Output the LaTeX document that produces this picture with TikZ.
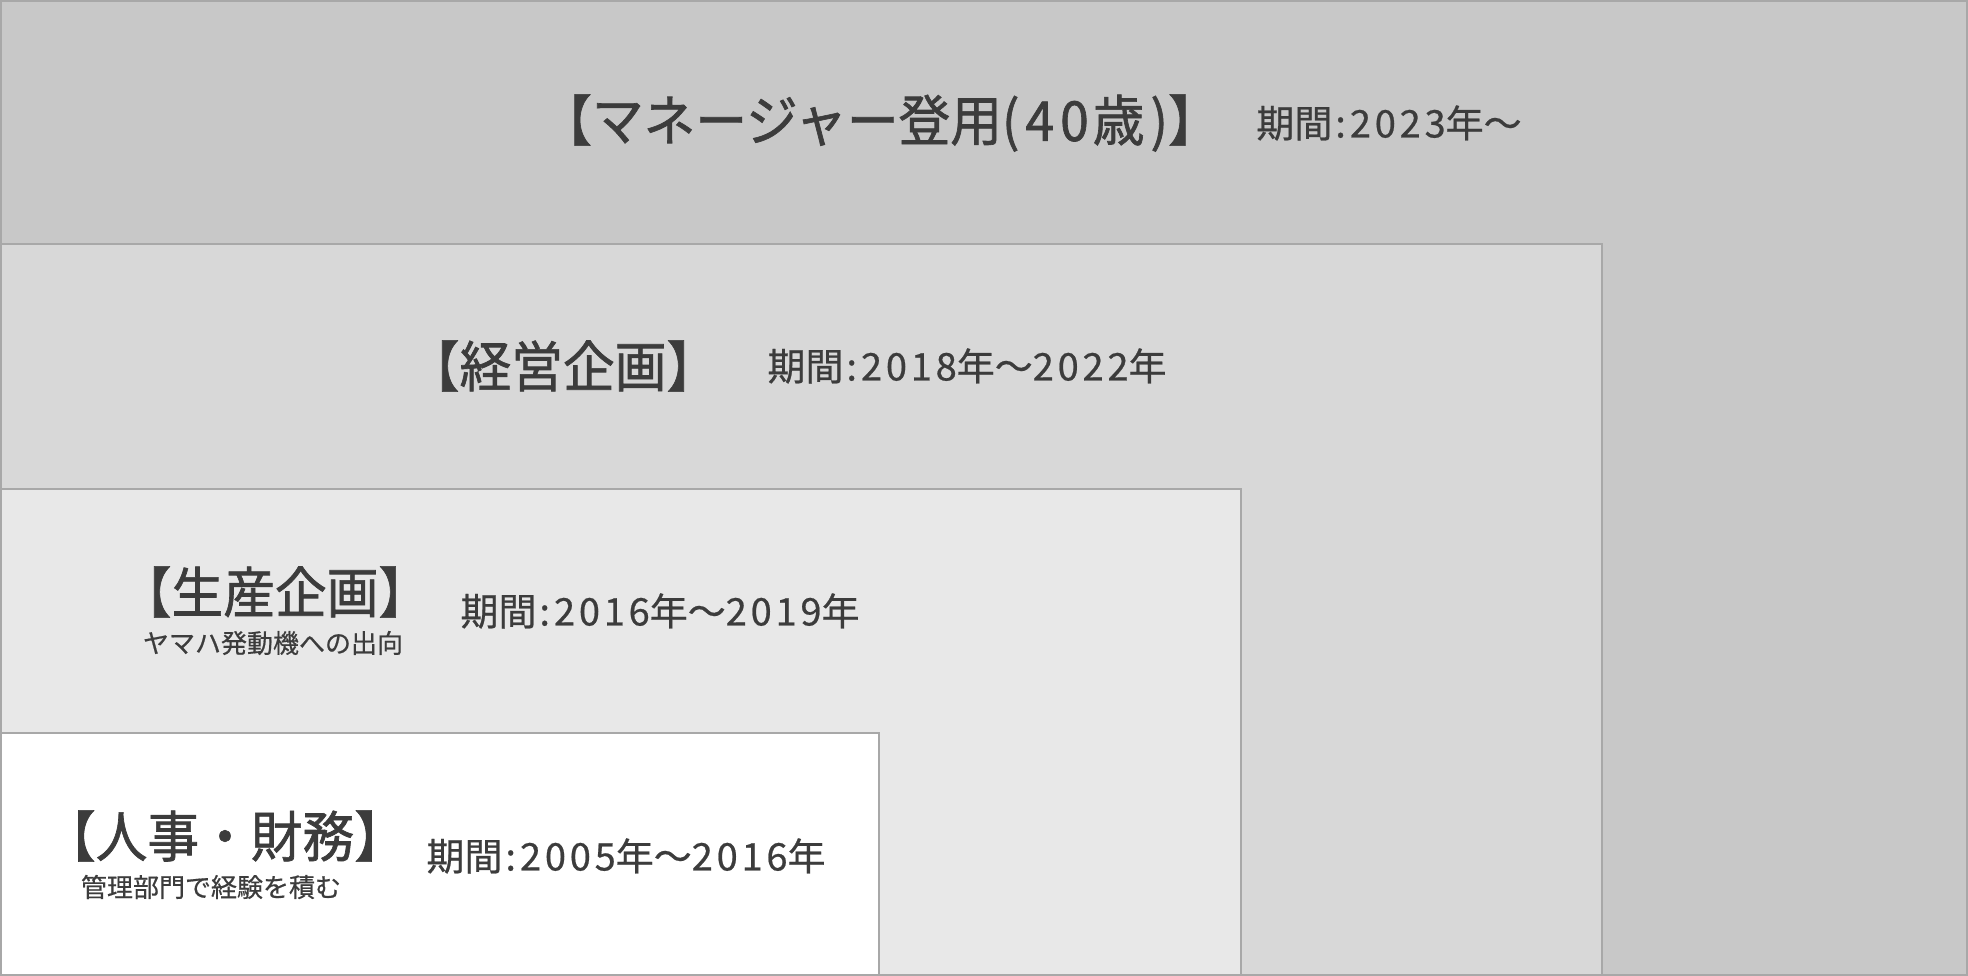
\documentclass[tikz,border=0pt]{standalone}
\usepackage{fontspec}
\setmainfont{Noto Sans CJK JP}
\newfontfamily\ttlfont[FakeBold=1.2, FakeStretch=0.94]{Noto Sans CJK JP}
\newfontfamily\perfont[FakeBold=0.6]{Noto Sans CJK JP}
\newfontfamily\digfont[FakeBold=0.6, LetterSpace=10]{Noto Sans CJK JP}
\newfontfamily\subfont[FakeBold=0.6]{Noto Sans CJK JP}
\definecolor{bgA}{HTML}{C8C8C8}
\definecolor{bgB}{HTML}{D8D8D8}
\definecolor{bgC}{HTML}{E8E8E8}
\definecolor{edge}{HTML}{A8A8A8}
\definecolor{ink}{HTML}{3C3C3C}
\newcommand{\dg}[1]{{\digfont #1}}
\newcommand{\colsep}{\kern3pt{\digfont :}\kern4pt}
\tikzset{
  panel/.style={draw=edge, line width=2pt},
  titletext/.style={text=ink, inner sep=0pt, font=\ttlfont\fontsize{55pt}{58pt}\selectfont},
  periodtext/.style={text=ink, inner sep=0pt, font=\perfont\fontsize{38pt}{42pt}\selectfont},
  subtext/.style={text=ink, inner sep=0pt, font=\subfont\fontsize{26pt}{29pt}\selectfont},
}
\begin{document}
\begin{tikzpicture}[x=1pt,y=-1pt]
\useasboundingbox (0,0) rectangle (1968,976);
\filldraw[panel, fill=bgA] (1,1) rectangle (1967,975);
\filldraw[panel, fill=bgB] (1,244) rectangle (1602,975);
\filldraw[panel, fill=bgC] (1,489) rectangle (1241,975);
\filldraw[panel, fill=white] (1,733) rectangle (879,975);

\node[titletext] (t1) at (880,123) {【マネージャー登用(\kern6pt 4\kern6pt 0\kern4pt 歳\kern6pt)】};
\node[periodtext] (p1) at (1389,123) {期間\colsep\dg{2023}年〜};

\node[titletext] (t2) at (563,366) {【経営企画】};
\node[periodtext] (p2) at (967,366) {期間\colsep\dg{2018}年〜\dg{2022}年};

\node[titletext] (t3) at (275,592) {【生産企画】};
\node[subtext] (s3) at (273,643) {ヤマハ発動機への出向};
\node[periodtext] (p3) at (660,611) {期間\colsep\dg{2016}年〜\dg{2019}年};

\node[titletext] (t4) at (225,836) {【人事・財務】};
\node[subtext] (s4) at (211,887) {管理部門で経験を積む};
\node[periodtext] (p4) at (626,856) {期間\colsep\dg{2005}年〜\dg{2016}年};
\end{tikzpicture}
\end{document}
